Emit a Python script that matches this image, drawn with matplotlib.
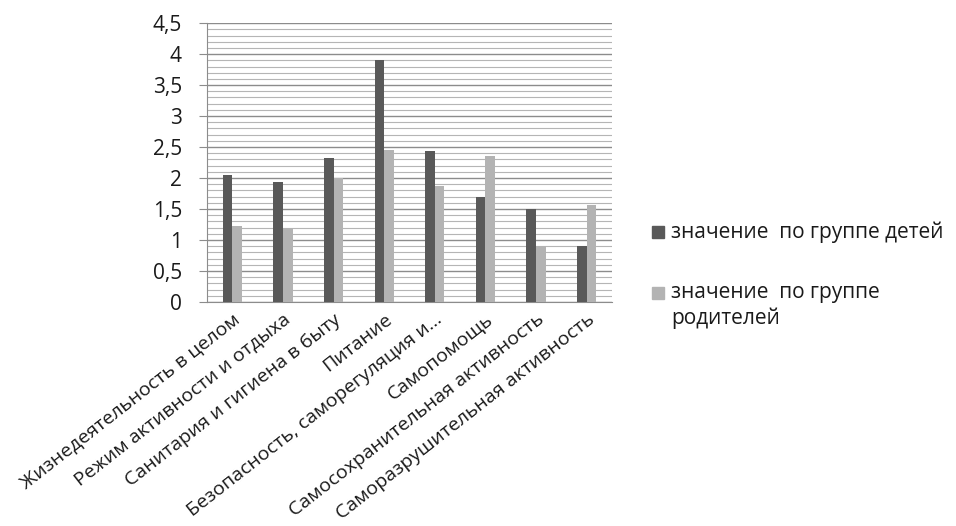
import matplotlib.pyplot as plt
import numpy as np
from matplotlib.patches import Rectangle

plt.rcParams['font.family'] = ['Open Sans', 'DejaVu Sans']

categories = ['Жизнедеятельность в целом', 'Режим активности и отдыха',
              'Санитария и гигиена в быту', 'Питание',
              'Безопасность, саморегуляция и…', 'Самопомощь',
              'Самосохранительная активность', 'Саморазрушительная активность']
children = [2.05, 1.93, 2.33, 3.90, 2.43, 1.70, 1.50, 0.90]
parents = [1.23, 1.19, 2.00, 2.45, 1.87, 2.35, 0.90, 1.56]
labels = ['значение  по группе детей', 'значение  по группе\nродителей']
yticks = np.arange(0, 4.51, 0.5)
ytick_labels = ['0', '0,5', '1', '1,5', '2', '2,5', '3', '3,5', '4', '4,5']

dark = '#595959'
light = '#b3b3b3'
txt = '#1a1a1a'

fig = plt.figure(figsize=(9.56, 5.26), dpi=100)
ax = fig.add_axes([0.2165, 0.426, 0.4236, 0.530])

x = np.arange(len(categories))
w = 0.19
ax.bar(x - w / 2, children, w, color=dark, zorder=3)
ax.bar(x + w / 2, parents, w, color=light, zorder=3)

ax.set_xlim(-0.5, len(categories) - 0.5)
ax.set_ylim(0, 4.5)
ax.set_yticks(yticks)
ax.set_yticklabels(ytick_labels, fontsize=15, color=txt)
ax.set_yticks(np.arange(0, 4.51, 0.1), minor=True)
ax.yaxis.grid(True, which='major', color='#8c8c8c', linewidth=1.0, zorder=0)
ax.yaxis.grid(True, which='minor', color='#b5b5b5', linewidth=0.8, zorder=0)
ax.tick_params(axis='y', which='major', length=6, color='#8c8c8c', pad=12)
ax.tick_params(axis='y', which='minor', length=0)

ax.set_xticks(x)
ax.set_xticklabels(categories, rotation=38, ha='right', rotation_mode='anchor',
                   fontsize=14, color=txt)
ax.tick_params(axis='x', length=0, pad=6)

for side in ['top', 'right']:
    ax.spines[side].set_visible(False)
ax.spines['left'].set_color('#8c8c8c')
ax.spines['bottom'].set_color('#8c8c8c')

# legend drawn by hand so the second swatch sits on the first text line
fig.add_artist(Rectangle((652 / 956, 1 - 238 / 526), 12 / 956, 12 / 526,
                         transform=fig.transFigure, color=dark))
fig.text(671 / 956, 1 - 232 / 526, labels[0], fontsize=15, va='center', color=txt)
fig.add_artist(Rectangle((652 / 956, 1 - 299 / 526), 12 / 956, 12 / 526,
                         transform=fig.transFigure, color=light))
fig.text(671 / 956, 1 - 282 / 526, labels[1], fontsize=15, va='top', color=txt,
         linespacing=1.3)

fig.savefig('out.png', dpi=100)
